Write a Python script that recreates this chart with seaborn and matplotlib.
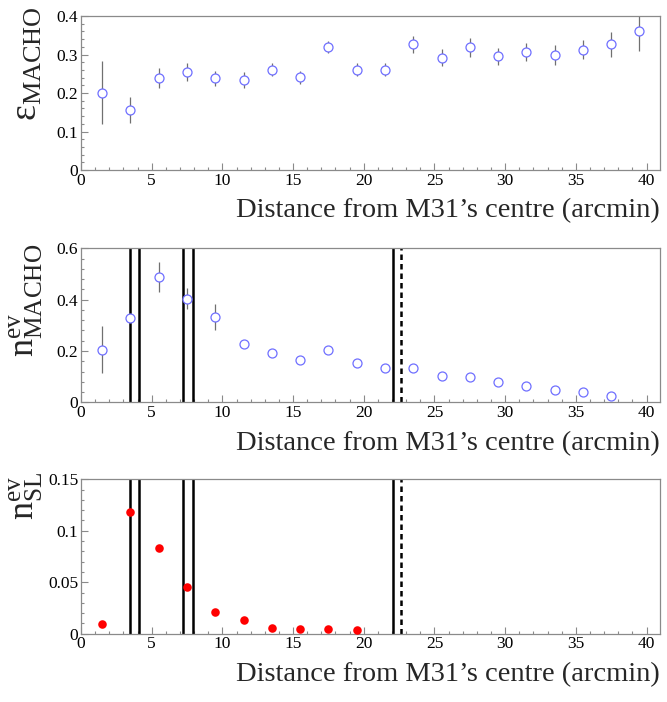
import matplotlib
matplotlib.use('Agg')
import matplotlib.pyplot as plt
from matplotlib.ticker import MultipleLocator
import numpy as np
import pandas as pd
import seaborn as sns

# bin centres (arcmin)
r_mid = [1.5, 3.5, 5.5, 7.5, 9.5, 11.5, 13.5, 15.5, 17.5, 19.5,
         21.5, 23.5, 25.5, 27.5, 29.5, 31.5, 33.5, 35.5, 37.5, 39.5]

# MACHO detection efficiency
eff = [0.201, 0.156, 0.239, 0.255, 0.238, 0.234, 0.261, 0.241, 0.320, 0.261,
       0.261, 0.326, 0.292, 0.319, 0.295, 0.307, 0.299, 0.313, 0.326, 0.361]
eff_err = [0.081, 0.034, 0.026, 0.023, 0.020, 0.020, 0.018, 0.017, 0.015, 0.017,
           0.018, 0.022, 0.022, 0.025, 0.023, 0.023, 0.025, 0.025, 0.033, 0.052]

# expected MACHO events
r_macho = r_mid[:19]
n_macho = [0.205, 0.327, 0.487, 0.404, 0.333, 0.226, 0.193, 0.165, 0.204, 0.153,
           0.135, 0.134, 0.101, 0.099, 0.078, 0.064, 0.047, 0.039, 0.026]
n_macho_err = [0.092, 0.010, 0.058, 0.040, 0.050, 0.014, 0.008, 0.007, 0.007, 0.006,
               0.005, 0.005, 0.004, 0.004, 0.003, 0.003, 0.002, 0.002, 0.002]

# expected self-lensing events
r_sl = r_mid[:10]
n_sl = [0.0095, 0.118, 0.083, 0.0454, 0.0211, 0.013, 0.0058, 0.0046, 0.0046, 0.0039]

# vertical marker lines
solid_lines = [3.5, 4.1, 7.2, 7.9, 22.1]
dashed_lines = [22.6]

sns.set_style('ticks')
plt.rcParams['font.family'] = ['Liberation Serif', 'DejaVu Serif']
plt.rcParams['mathtext.fontset'] = 'custom'
plt.rcParams['mathtext.rm'] = 'Liberation Serif'
plt.rcParams['mathtext.it'] = 'Liberation Serif:italic'

blue = '#6f6fff'
frame = '#8a8a8a'
xlabel = 'Distance from M31\u2019s centre (arcmin)'

fig = plt.figure(figsize=(6.67, 7.02), dpi=100)
ax1 = fig.add_axes([0.1214, 0.7578, 0.8681, 0.2194])
ax2 = fig.add_axes([0.1214, 0.4269, 0.8681, 0.2194])
ax3 = fig.add_axes([0.1214, 0.0973, 0.8681, 0.2199])


def style(ax, ymax, ymaj, ymin):
    ax.set_xlim(0, 40.95)
    ax.set_ylim(0, ymax)
    ax.xaxis.set_major_locator(MultipleLocator(5))
    ax.xaxis.set_minor_locator(MultipleLocator(1))
    ax.yaxis.set_major_locator(MultipleLocator(ymaj))
    ax.yaxis.set_minor_locator(MultipleLocator(ymin))
    ax.tick_params(which='both', direction='in', color=frame, width=0.8,
                   labelsize=12.5, pad=2, colors=frame, labelcolor='black')
    ax.tick_params(which='major', length=5)
    ax.tick_params(which='minor', length=2.5)
    for s in ax.spines.values():
        s.set_color(frame)
        s.set_linewidth(0.9)
    ax.set_xlabel(xlabel, fontsize=20.5, loc='right', labelpad=7)


def vlines(ax):
    for x in solid_lines:
        ax.axvline(x, color='black', lw=1.8, zorder=1)
    for x in dashed_lines:
        ax.axvline(x, color='black', lw=1.8, ls=(0, (2.2, 1.6)), zorder=1)


# top panel: efficiency
df1 = pd.DataFrame({'r': r_mid, 'eff': eff})
ax1.errorbar(r_mid, eff, yerr=eff_err, fmt='none', ecolor='#707070',
             elinewidth=0.9, zorder=2)
sns.scatterplot(data=df1, x='r', y='eff', ax=ax1, marker='o', s=42,
                facecolor='white', edgecolor=blue, linewidth=0.9, zorder=3)
style(ax1, 0.4, 0.1, 0.02)
ax1.yaxis.set_major_formatter(plt.FuncFormatter(lambda v, p: '0' if v == 0 else f'{v:.1f}'))
ax1.set_ylabel('$\\mathrm{\u03b5}_{\\mathrm{MACHO}}$', fontsize=27)
ax1.yaxis.set_label_coords(-0.062, 0.69)

# middle panel: MACHO events
df2 = pd.DataFrame({'r': r_macho, 'n': n_macho})
vlines(ax2)
ax2.errorbar(r_macho, n_macho, yerr=n_macho_err, fmt='none', ecolor='#707070',
             elinewidth=0.9, zorder=2)
sns.scatterplot(data=df2, x='r', y='n', ax=ax2, marker='o', s=42,
                facecolor='white', edgecolor=blue, linewidth=0.9, zorder=3)
style(ax2, 0.6, 0.2, 0.04)
ax2.yaxis.set_major_formatter(plt.FuncFormatter(lambda v, p: '0' if v == 0 else f'{v:.1f}'))
ax2.set_ylabel(r'$\mathrm{n}^{\mathrm{ev}}_{\mathrm{MACHO}}$', fontsize=26)
ax2.yaxis.set_label_coords(-0.062, 0.66)

# bottom panel: self-lensing events
df3 = pd.DataFrame({'r': r_sl, 'n': n_sl})
vlines(ax3)
sns.scatterplot(data=df3, x='r', y='n', ax=ax3, marker='o', s=38,
                color='#ff0000', edgecolor='#ff0000', linewidth=0, zorder=3)
style(ax3, 0.15, 0.05, 0.01)
ax3.yaxis.set_major_formatter(plt.FuncFormatter(
    lambda v, p: '0' if v == 0 else ('0.1' if abs(v - 0.1) < 1e-9 else f'{v:.2f}')))
ax3.set_ylabel(r'$\mathrm{n}^{\mathrm{ev}}_{\mathrm{SL}}$', fontsize=26)
ax3.yaxis.set_label_coords(-0.062, 0.89)

fig.savefig('out.png', dpi=100)
